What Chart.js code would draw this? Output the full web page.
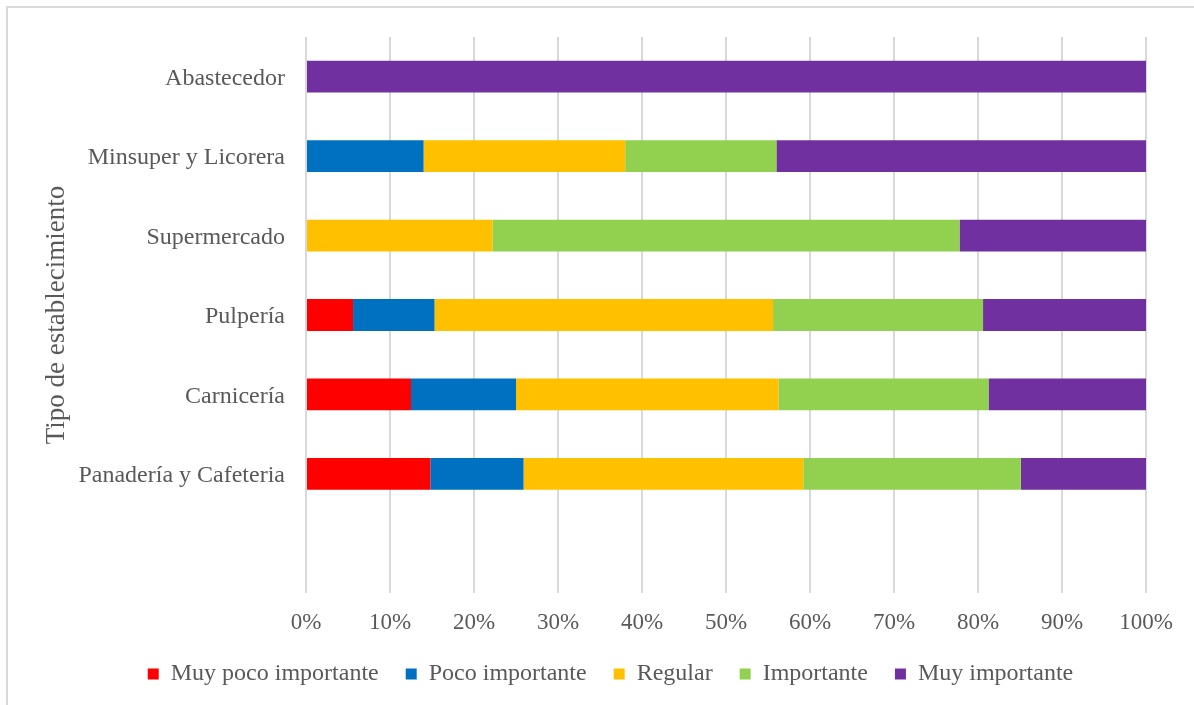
<!DOCTYPE html>
<html lang="es">
<head>
<meta charset="utf-8">
<title>Tipo de establecimiento</title>
<script src="https://cdn.jsdelivr.net/npm/chart.js@4/dist/chart.umd.min.js"></script>
<style>
    html, body { margin: 0; padding: 0; background: #fff; overflow: hidden; }
    #wrap { position: relative; width: 1194px; height: 705px; }
    #frame {
        position: absolute; left: 6px; top: 6px; width: 1210px; height: 720px;
        border: 2px solid #d9d9d9; pointer-events: none; box-sizing: border-box;
    }
    canvas { position: absolute; left: 0; top: 0; }
</style>
</head>
<body>
<div id="wrap">
    <canvas id="chart" width="1194" height="705"></canvas>
    <div id="frame"></div>
</div>
<script>
// establishments, top to bottom (last slot left empty)
const categories = ['Abastecedor', 'Minsuper y Licorera', 'Supermercado', 'Pulpería', 'Carnicería', 'Panadería y Cafeteria', ''];

// share of answers per level, in %
const muyPoco       = [0,   0,    0,    5.6, 12.5,  14.8, null];
const poco          = [0,   14,   0,    9.7, 12.5,  11.1, null];
const regular       = [0,   24,   22.2, 40.3, 31.25, 33.3, null];
const importante    = [0,   18,   55.6, 25,   25,    25.9, null];
const muyImportante = [100, 44,   22.2, 19.4, 18.75, 14.9, null];

const seriesNames = ['Muy poco importante', 'Poco importante', 'Regular', 'Importante', 'Muy importante'];
const seriesColors = ['#FF0000', '#0070C0', '#FFC000', '#92D050', '#7030A0'];
const xTicks = [0, 10, 20, 30, 40, 50, 60, 70, 80, 90, 100];

const serif = '"Liberation Serif", "Times New Roman", serif';
const grey = '#595959';

const values = [muyPoco, poco, regular, importante, muyImportante];
const datasets = values.map(function (v, i) {
    return {
        label: seriesNames[i],
        data: v,
        backgroundColor: seriesColors[i],
        borderWidth: 0,
        barPercentage: 0.4,
        categoryPercentage: 1
    };
});

// nudge the legend so it sits centred under the plot like the original
const legendShift = {
    id: 'legendShift',
    afterLayout: function (chart) {
        chart.legend.left += 17;
        chart.legend.right += 17;
        chart.legend.top += 2;
        chart.legend.bottom += 2;
    }
};

new Chart(document.getElementById('chart'), {
    type: 'bar',
    data: { labels: categories, datasets: datasets },
    plugins: [legendShift],
    options: {
        indexAxis: 'y',
        responsive: false,
        animation: false,
        layout: { padding: { top: 37, left: 41, right: 48, bottom: 11 } },
        scales: {
            x: {
                stacked: true,
                min: 0,
                max: 100,
                afterBuildTicks: function (scale) {
                    scale.ticks = xTicks.map(function (t) { return { value: t }; });
                },
                afterFit: function (scale) { scale.height = 40; },
                grid: { color: '#d9d9d9', lineWidth: 2, drawTicks: false },
                border: { display: false },
                ticks: {
                    padding: 16,
                    color: grey,
                    font: { family: serif, size: 23 },
                    callback: function (v) { return v + '%'; }
                }
            },
            y: {
                stacked: true,
                afterFit: function (scale) { scale.width = 265; },
                grid: { display: false, drawTicks: false },
                border: { display: false },
                ticks: {
                    padding: 21,
                    labelOffset: 2,
                    color: grey,
                    font: { family: serif, size: 24 }
                },
                title: {
                    display: true,
                    text: 'Tipo de establecimiento',
                    color: grey,
                    padding: 0,
                    font: { family: serif, size: 27 }
                }
            }
        },
        plugins: {
            legend: {
                position: 'bottom',
                labels: {
                    boxWidth: 11,
                    boxHeight: 11,
                    padding: 27,
                    color: grey,
                    font: { family: serif, size: 24 }
                }
            },
            tooltip: { enabled: false }
        }
    }
});
</script>
</body>
</html>
